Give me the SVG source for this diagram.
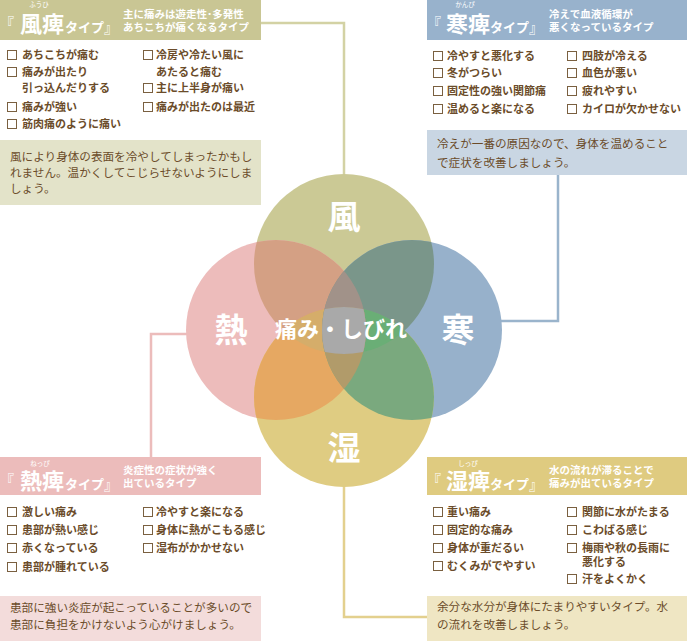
<svg xmlns="http://www.w3.org/2000/svg" width="687" height="641" viewBox="0 0 687 641">
<defs>
<style>
text{font-family:"Noto Sans CJK JP","Noto Sans",sans-serif;}
.it{font-size:11px;font-weight:700;fill:#6b4c2a;}
.nt{font-size:11.6px;fill:#6b4c2a;}
.cb{fill:#fff;stroke:#7a6040;stroke-width:1;}
.hd{fill:#fff;font-weight:700;}
.big{font-size:22px;}
.tp{font-size:13px;}
.br{font-size:14px;font-weight:400;}
.rb{font-size:6.5px;font-weight:400;}
.sub{font-size:10.5px;}
.cl{fill:#fff;font-weight:700;font-size:33px;text-anchor:middle;}
.ln{fill:none;stroke-width:2.5;}
</style>
<clipPath id="cT"><circle cx="344" cy="264" r="90"/></clipPath>
<clipPath id="cB"><circle cx="344" cy="397" r="90"/></clipPath>
<clipPath id="cL"><circle cx="276" cy="330" r="90"/></clipPath>
<clipPath id="cR"><circle cx="412" cy="330" r="90"/></clipPath>
</defs>
<rect width="687" height="641" fill="#fff"/>

<g id="connectors">
<polyline class="ln" stroke="#d3d2a4" points="261,23 344,23 344,176"/>
<polyline class="ln" stroke="#9ab4cc" points="558,175 558,321 500,321"/>
<polyline class="ln" stroke="#ecbcbb" points="151,457 151,334 188,334"/>
<polyline class="ln" stroke="#e3d08e" points="427,617 344,617 344,485"/>
</g>

<g id="circles">
<circle cx="344" cy="264" r="90" fill="#cbc995"/>
<circle cx="276" cy="330" r="90" fill="#edbcbb"/>
<circle cx="412" cy="330" r="90" fill="#97b1cb"/>
<circle cx="344" cy="397" r="90" fill="#dfcc82"/>
<g clip-path="url(#cT)"><circle cx="276" cy="330" r="90" fill="#d4a084"/><circle cx="412" cy="330" r="90" fill="#7a968a"/></g>
<g clip-path="url(#cB)"><circle cx="276" cy="330" r="90" fill="#e6a862"/><circle cx="412" cy="330" r="90" fill="#7aa97e"/></g>
<g clip-path="url(#cT)"><g clip-path="url(#cB)"><circle cx="276" cy="330" r="90" fill="#d5ad6a"/><circle cx="412" cy="330" r="90" fill="#6aae76"/></g></g>
<g clip-path="url(#cL)"><g clip-path="url(#cR)"><circle cx="344" cy="264" r="90" fill="#a19289"/><circle cx="344" cy="397" r="90" fill="#b19b6a"/></g></g>
<g clip-path="url(#cL)"><g clip-path="url(#cR)"><g clip-path="url(#cT)"><circle cx="344" cy="397" r="90" fill="#a9a9a9"/></g></g></g>
<text class="cl" x="344" y="229">風</text>
<text class="cl" x="231" y="342">熱</text>
<text class="cl" x="458" y="342">寒</text>
<text class="cl" x="344" y="460">湿</text>
<text x="341" y="337" fill="#fff" font-weight="700" font-size="22" text-anchor="middle">痛み・しびれ</text>
</g>

<g id="fuhi">
<rect x="0" y="0" width="261" height="40" fill="#c9c694"/>
<text class="hd rb" x="39" y="7" text-anchor="middle">ふうひ</text>
<text class="hd br" x="0" y="28">『</text>
<text class="hd big" x="20" y="32">風痺</text>
<text class="hd tp" x="65" y="32">タイプ</text>
<text class="hd br" x="104" y="33">』</text>
<text class="hd sub" x="123" y="18">主に痛みは遊走性･多発性</text>
<text class="hd sub" x="123" y="31">あちこちが痛くなるタイプ</text>
<rect class="cb" x="7.5" y="50.5" width="9" height="9"/>
<rect class="cb" x="7.5" y="67.5" width="9" height="9"/>
<rect class="cb" x="7.5" y="102.5" width="9" height="9"/>
<rect class="cb" x="7.5" y="119.5" width="9" height="9"/>
<rect class="cb" x="143.5" y="50.5" width="9" height="9"/>
<rect class="cb" x="143.5" y="83.5" width="9" height="9"/>
<rect class="cb" x="143.5" y="102.5" width="9" height="9"/>
<text class="it" x="22" y="59">あちこちが痛む</text>
<text class="it" x="22" y="76">痛みが出たり</text>
<text class="it" x="22" y="92">引っ込んだりする</text>
<text class="it" x="22" y="111">痛みが強い</text>
<text class="it" x="22" y="128">筋肉痛のように痛い</text>
<text class="it" x="156" y="59">冷房や冷たい風に</text>
<text class="it" x="156" y="76">あたると痛む</text>
<text class="it" x="156" y="92">主に上半身が痛い</text>
<text class="it" x="156" y="111">痛みが出たのは最近</text>
<rect x="0" y="140" width="261" height="65" fill="#e3e3c9"/>
<text class="nt" x="10" y="161">風により身体の表面を冷やしてしまったかもし</text>
<text class="nt" x="10" y="177">れません。温かくしてこじらせないようにしま</text>
<text class="nt" x="10" y="193">しょう。</text>
</g>

<g id="kanpi">
<rect x="427" y="0" width="260" height="40" fill="#98b2cc"/>
<text class="hd rb" x="465" y="7" text-anchor="middle">かんぴ</text>
<text class="hd br" x="427" y="28">『</text>
<text class="hd big" x="446" y="32">寒痺</text>
<text class="hd tp" x="490" y="32">タイプ</text>
<text class="hd br" x="529" y="33">』</text>
<text class="hd sub" x="549" y="18">冷えで血液循環が</text>
<text class="hd sub" x="549" y="31">悪くなっているタイプ</text>
<rect class="cb" x="433.5" y="51.5" width="9" height="9"/>
<rect class="cb" x="433.5" y="68.5" width="9" height="9"/>
<rect class="cb" x="433.5" y="86.5" width="9" height="9"/>
<rect class="cb" x="433.5" y="104.5" width="9" height="9"/>
<rect class="cb" x="567.5" y="51.5" width="9" height="9"/>
<rect class="cb" x="567.5" y="68.5" width="9" height="9"/>
<rect class="cb" x="567.5" y="86.5" width="9" height="9"/>
<rect class="cb" x="567.5" y="104.5" width="9" height="9"/>
<text class="it" x="447" y="60">冷やすと悪化する</text>
<text class="it" x="447" y="77">冬がつらい</text>
<text class="it" x="447" y="95">固定性の強い関節痛</text>
<text class="it" x="447" y="113">温めると楽になる</text>
<text class="it" x="582" y="60">四肢が冷える</text>
<text class="it" x="582" y="77">血色が悪い</text>
<text class="it" x="582" y="95">疲れやすい</text>
<text class="it" x="582" y="113">カイロが欠かせない</text>
<rect x="427" y="130" width="260" height="45" fill="#c9d6e3"/>
<text class="nt" x="437" y="148">冷えが一番の原因なので、身体を温めること</text>
<text class="nt" x="437" y="167">で症状を改善しましょう。</text>
</g>

<g id="neppi">
<rect x="0" y="457" width="261" height="38" fill="#ecbcbb"/>
<text class="hd rb" x="40" y="466" text-anchor="middle">ねっぴ</text>
<text class="hd br" x="0" y="485">『</text>
<text class="hd big" x="20" y="489">熱痺</text>
<text class="hd tp" x="65" y="489">タイプ</text>
<text class="hd br" x="104" y="490">』</text>
<text class="hd sub" x="123" y="474">炎症性の症状が強く</text>
<text class="hd sub" x="123" y="487">出ているタイプ</text>
<rect class="cb" x="7.5" y="507.5" width="9" height="9"/>
<rect class="cb" x="7.5" y="525.5" width="9" height="9"/>
<rect class="cb" x="7.5" y="543.5" width="9" height="9"/>
<rect class="cb" x="7.5" y="562.5" width="9" height="9"/>
<rect class="cb" x="143.5" y="507.5" width="9" height="9"/>
<rect class="cb" x="143.5" y="525.5" width="9" height="9"/>
<rect class="cb" x="143.5" y="543.5" width="9" height="9"/>
<text class="it" x="22" y="516">激しい痛み</text>
<text class="it" x="22" y="534">患部が熱い感じ</text>
<text class="it" x="22" y="552">赤くなっている</text>
<text class="it" x="22" y="571">患部が腫れている</text>
<text class="it" x="156" y="516">冷やすと楽になる</text>
<text class="it" x="156" y="534">身体に熱がこもる感じ</text>
<text class="it" x="156" y="552">湿布がかかせない</text>
<rect x="0" y="596" width="261" height="45" fill="#f3dcdb"/>
<text class="nt" x="10" y="612">患部に強い炎症が起こっていることが多いので</text>
<text class="nt" x="10" y="629">患部に負担をかけないよう心がけましょう。</text>
</g>

<g id="shippi">
<rect x="427" y="457" width="260" height="38" fill="#dfcb80"/>
<text class="hd rb" x="468" y="466" text-anchor="middle">しっぴ</text>
<text class="hd br" x="427" y="485">『</text>
<text class="hd big" x="446" y="489">湿痺</text>
<text class="hd tp" x="490" y="489">タイプ</text>
<text class="hd br" x="529" y="490">』</text>
<text class="hd sub" x="549" y="474">水の流れが滞ることで</text>
<text class="hd sub" x="549" y="487">痛みが出ているタイプ</text>
<rect class="cb" x="433.5" y="507.5" width="9" height="9"/>
<rect class="cb" x="433.5" y="525.5" width="9" height="9"/>
<rect class="cb" x="433.5" y="543.5" width="9" height="9"/>
<rect class="cb" x="433.5" y="561.5" width="9" height="9"/>
<rect class="cb" x="567.5" y="507.5" width="9" height="9"/>
<rect class="cb" x="567.5" y="525.5" width="9" height="9"/>
<rect class="cb" x="567.5" y="543.5" width="9" height="9"/>
<rect class="cb" x="567.5" y="574.5" width="9" height="9"/>
<text class="it" x="447" y="516">重い痛み</text>
<text class="it" x="447" y="534">固定的な痛み</text>
<text class="it" x="447" y="552">身体が重だるい</text>
<text class="it" x="447" y="570">むくみがでやすい</text>
<text class="it" x="582" y="516">関節に水がたまる</text>
<text class="it" x="582" y="534">こわばる感じ</text>
<text class="it" x="582" y="552">梅雨や秋の長雨に</text>
<text class="it" x="582" y="566">悪化する</text>
<text class="it" x="582" y="583">汗をよくかく</text>
<rect x="427" y="596" width="260" height="45" fill="#efe6c3"/>
<text class="nt" x="437" y="611">余分な水分が身体にたまりやすいタイプ。水</text>
<text class="nt" x="437" y="629">の流れを改善しましょう。</text>
</g>
</svg>
